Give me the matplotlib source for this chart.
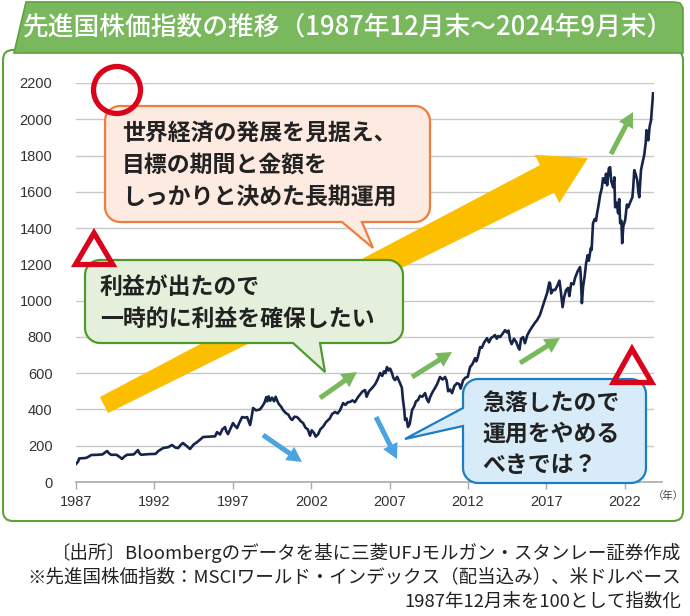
import numpy as np
import matplotlib
matplotlib.use("Agg")
import matplotlib.pyplot as plt
from matplotlib.patches import Polygon, Circle, FancyArrow, FancyBboxPatch

JP = ["Noto Sans CJK JP", "DejaVu Sans"]
NUM = ["Liberation Sans", "DejaVu Sans"]

# MSCI World (dividends reinvested, USD), Dec 1987 = 100
dates = [
    1987.92, 1988.05, 1988.12, 1988.5, 1988.62, 1988.9, 1989.3, 1989.6, 1989.9, 1990.0,
    1990.15, 1990.5, 1990.7, 1990.85, 1991.0, 1991.17, 1991.6, 1991.8, 1991.87, 1991.95,
    1992.07, 1992.3, 1992.64, 1993.0, 1993.15, 1993.47, 1993.8, 1994.04, 1994.25, 1994.43,
    1994.6, 1994.74, 1994.95, 1995.19, 1995.4, 1995.64, 1995.85, 1996.02, 1996.4, 1996.79,
    1996.91, 1997.1, 1997.25, 1997.42, 1997.5, 1997.61, 1997.8, 1997.93, 1998.05, 1998.19,
    1998.35, 1998.51, 1998.7, 1998.83, 1999.02, 1999.1, 1999.21, 1999.4, 1999.65, 1999.85,
    1999.95, 2000.05, 2000.12, 2000.2, 2000.3, 2000.42, 2000.55, 2000.65, 2000.74, 2000.85,
    2001.0, 2001.12, 2001.3, 2001.45, 2001.6, 2001.7, 2001.85, 2002.0, 2002.08, 2002.25,
    2002.4, 2002.55, 2002.7, 2002.84, 2002.95, 2003.1, 2003.2, 2003.35, 2003.5, 2003.67,
    2003.86, 2004.1, 2004.25, 2004.44, 2004.6, 2004.75, 2004.95, 2005.1, 2005.25, 2005.39,
    2005.55, 2005.7, 2005.9, 2006.1, 2006.2, 2006.35, 2006.45, 2006.6, 2006.8, 2007.0,
    2007.15, 2007.31, 2007.45, 2007.55, 2007.65, 2007.75, 2007.85, 2007.95, 2008.07, 2008.15,
    2008.26, 2008.4, 2008.58, 2008.7, 2008.77, 2008.85, 2008.9, 2009.0, 2009.09, 2009.2,
    2009.35, 2009.5, 2009.6, 2009.73, 2009.85, 2010.0, 2010.18, 2010.3, 2010.4, 2010.5,
    2010.65, 2010.81, 2010.95, 2011.13, 2011.3, 2011.45, 2011.55, 2011.65, 2011.77, 2011.9,
    2012.05, 2012.22, 2012.35, 2012.45, 2012.6, 2012.75, 2012.9, 2013.05, 2013.2, 2013.37,
    2013.45, 2013.55, 2013.69, 2013.8, 2013.95, 2014.13, 2014.25, 2014.4, 2014.5, 2014.64,
    2014.75, 2014.85, 2014.96, 2015.1, 2015.28, 2015.4, 2015.5, 2015.6, 2015.7, 2015.85,
    2016.0, 2016.11, 2016.2, 2016.3, 2016.43, 2016.55, 2016.7, 2016.87, 2017.05, 2017.2,
    2017.32, 2017.5, 2017.64, 2017.8, 2017.96, 2018.1, 2018.15, 2018.22, 2018.35, 2018.47,
    2018.6, 2018.75, 2018.85, 2018.95, 2019.05, 2019.17, 2019.3, 2019.38, 2019.5, 2019.65,
    2019.74, 2019.9, 2020.06, 2020.1, 2020.18, 2020.26, 2020.35, 2020.45, 2020.55, 2020.62,
    2020.75, 2020.8, 2020.89, 2021.0, 2021.08, 2021.15, 2021.25, 2021.34, 2021.45, 2021.53,
    2021.65, 2021.72, 2021.79, 2021.9, 2021.98, 2022.05, 2022.17, 2022.25, 2022.3, 2022.4,
    2022.49, 2022.56, 2022.62, 2022.7, 2022.75, 2022.82, 2022.94, 2023.05, 2023.14, 2023.25,
    2023.4, 2023.45, 2023.52, 2023.6, 2023.71, 2023.78, 2023.84, 2023.95, 2024.04, 2024.15,
    2024.25, 2024.3, 2024.35, 2024.42, 2024.5, 2024.59, 2024.72,
]
index_values = [
    100, 112, 130, 132, 135, 149, 150, 152, 171, 160,
    150, 150, 138, 127, 140, 150, 152, 170, 176, 160,
    150, 152, 154, 155, 170, 187, 192, 204, 190, 187,
    205, 215, 200, 182, 205, 220, 235, 248, 250, 252,
    275, 262, 290, 303, 280, 264, 300, 325, 310, 297,
    330, 358, 355, 358, 314, 350, 408, 395, 400, 424,
    440, 468, 445, 472, 448, 465, 445, 470, 450, 430,
    415, 397, 380, 372, 350, 342, 360, 358, 353, 335,
    325, 300, 290, 255, 285, 270, 250, 262, 290, 305,
    330, 350, 375, 386, 378, 395, 435, 425, 440, 441,
    450, 440, 468, 490, 500, 507, 470, 500, 518, 540,
    565, 601, 585, 610, 600, 634, 615, 625, 601, 575,
    562, 580, 545, 520, 452, 400, 342, 350, 303, 320,
    397, 420, 445, 452, 475, 470, 490, 455, 440, 468,
    495, 518, 540, 579, 565, 579, 560, 500, 510, 490,
    530, 545, 540, 515, 560, 575, 580, 634, 650, 683,
    665, 690, 744, 740, 770, 793, 770, 795, 800, 810,
    790, 805, 799, 815, 837, 825, 835, 782, 760, 790,
    770, 744, 730, 790, 799, 765, 810, 837, 860, 880,
    892, 920, 958, 1000, 1041, 1100, 1096, 1040, 1060, 1058,
    1080, 1110, 1040, 964, 1020, 1058, 1070, 1025, 1096, 1090,
    1124, 1160, 1185, 1150, 986, 1080, 1130, 1207, 1250, 1220,
    1290, 1280, 1427, 1450, 1440, 1482, 1530, 1581, 1620, 1675,
    1650, 1700, 1636, 1730, 1736, 1660, 1625, 1680, 1515, 1540,
    1482, 1560, 1427, 1440, 1317, 1410, 1444, 1530, 1515, 1540,
    1570, 1620, 1719, 1700, 1664, 1600, 1570, 1720, 1758, 1800,
    1870, 1940, 1900, 1884, 1960, 1995, 2143,
]

tick_years = [1987, 1992, 1997, 2002, 2007, 2012, 2017, 2022]
y_ticks = list(range(0, 2201, 200))

title = "先進国株価指数の推移（1987年12月末～2024年9月末）"
notes = [
    "〔出所〕Bloombergのデータを基に三菱UFJモルガン・スタンレー証券作成",
    "※先進国株価指数：MSCIワールド・インデックス（配当込み）、米ドルベース",
    "1987年12月末を100として指数化",
]
msg_long = ["世界経済の発展を見据え、", "目標の期間と金額を", "しっかりと決めた長期運用"]
msg_profit = ["利益が出たので", "一時的に利益を確保したい"]
msg_drop = ["急落したので", "運用をやめる", "べきでは？"]

W, H = 690, 616
fig = plt.figure(figsize=(W / 100, H / 100), dpi=100)

# background: frame + title band (pixel coordinates)
bg = fig.add_axes([0, 0, 1, 1], zorder=0)
bg.set_xlim(0, W)
bg.set_ylim(H, 0)
bg.axis("off")
bg.add_patch(FancyBboxPatch((3, 50), 680, 471, boxstyle="round,pad=0,rounding_size=10",
                            fc="white", ec="#5ea23c", lw=1.5))
band = [(14, 53), (26, 2), (674, 2), (680, 3), (683, 8), (683, 53)]
bg.add_patch(Polygon(band, closed=True, fc="#7ab85e", ec="#5ea23c", lw=1.2))
bg.text(348, 27, title, color="white", fontsize=18.5, family=JP, weight="medium",
        ha="center", va="center")
for i, line in enumerate(notes):
    bg.text(681, 553 + i * 24.5, line, fontsize=13.3, family=JP, color="#222222",
            ha="right", va="center")

# main chart
x0_year = 1987 + 11 / 12
px_per_year = 15.68
ax = fig.add_axes([76 / W, 1 - 482 / H, 578 / W, 399 / H], zorder=1)
ax.patch.set_alpha(0)
ax.plot(dates, index_values, color="#16244a", lw=1.9, solid_joinstyle="round", zorder=3)
ax.set_xlim(x0_year, x0_year + 578 / px_per_year)
ax.set_ylim(0, 2200)
ax.set_yticks(y_ticks)
ax.set_yticklabels([str(v) for v in y_ticks], fontsize=10.5, family=NUM, color="#333333")
ax.set_xticks([y + 11 / 12 for y in tick_years])
ax.set_xticklabels([str(y) for y in tick_years], fontsize=10.5, family=NUM, color="#333333")
ax.tick_params(axis="y", length=0, pad=17)
ax.tick_params(axis="x", length=5, color="#aaaaaa", width=1, pad=4)
ax.grid(axis="y", color="#c8c8c8", lw=1)
for s in ax.spines.values():
    s.set_visible(False)
ax.axhline(0, xmin=0, xmax=(662 - 76) / 578, color="#aaaaaa", lw=1.2, clip_on=False, zorder=2)
ax.text(1.025, -0.035, "（年）", transform=ax.transAxes, fontsize=7.5, family=JP,
        color="#444444", ha="center", va="center")

# overlay with annotations (pixel coordinates)
ov = fig.add_axes([0, 0, 1, 1], zorder=2)
ov.set_xlim(0, W)
ov.set_ylim(H, 0)
ov.axis("off")

# big tapered yellow arrow
tail = np.array([104.0, 405.0])
tip = np.array([588.0, 158.0])
u = (tip - tail) / np.hypot(*(tip - tail))
n = np.array([-u[1], u[0]])
base = tip - 46 * u
yellow = [tail + 9 * n, base + 15.5 * n, base + 27 * n, tip, base - 27 * n, base - 15.5 * n, tail - 9 * n]
ov.add_patch(Polygon(yellow, closed=True, fc="#fbbf00", ec="none"))


def small_arrow(p0, p1, color):
    ov.add_patch(FancyArrow(p0[0], p0[1], p1[0] - p0[0], p1[1] - p0[1], width=5,
                            head_width=16, head_length=15, length_includes_head=True,
                            fc=color, ec="none"))


green_arrow = "#7ab85e"
blue_arrow = "#4ba4df"
small_arrow((320, 398), (357, 372), green_arrow)
small_arrow((412, 377), (452, 352), green_arrow)
small_arrow((520, 363), (560, 338), green_arrow)
small_arrow((611, 154), (633, 112), green_arrow)
small_arrow((263, 435), (302, 462), blue_arrow)
small_arrow((376, 417), (397, 459), blue_arrow)


def bubble(x0, y0, x1, y1, r, side, t0, t1, tip_pt, fc, ec):
    pts = []

    def arc(cx, cy, a0, a1):
        for a in np.linspace(a0, a1, 10):
            pts.append((cx + r * np.cos(a), cy + r * np.sin(a)))

    arc(x0 + r, y0 + r, np.pi, 1.5 * np.pi)
    arc(x1 - r, y0 + r, 1.5 * np.pi, 2 * np.pi)
    arc(x1 - r, y1 - r, 0, 0.5 * np.pi)
    if side == "bottom":
        pts += [(t1, y1), tip_pt, (t0, y1)]
    arc(x0 + r, y1 - r, 0.5 * np.pi, np.pi)
    if side == "left":
        pts += [(x0, t1), tip_pt, (x0, t0)]
    ov.add_patch(Polygon(pts, closed=True, fc=fc, ec=ec, lw=1.6, joinstyle="miter"))


def lines(x, ys, texts):
    for y, t in zip(ys, texts):
        ov.text(x, y, t, fontsize=16.5, family=JP, weight="bold", color="#222222",
                ha="left", va="center")


bubble(105, 106, 430, 222, 15, "bottom", 342, 362, (373, 248), "#fdeae1", "#ef7d3d")
lines(122, [133, 165, 197], msg_long)
bubble(85, 260, 403, 343, 15, "bottom", 293, 320, (325, 372), "#e4f0dc", "#4f9a2c")
lines(100, [287, 319], msg_profit)
bubble(463, 379, 646, 483, 15, "left", 408, 426, (405, 439), "#d7ebf8", "#1b7dc3")
lines(482, [403, 434, 465], msg_drop)

# red marks
red = "#d9041b"
ov.add_patch(Circle((117, 90), 23.5, fill=False, ec=red, lw=3.8))
ov.add_patch(Polygon([(94, 233), (75.5, 264.5), (112.7, 264.5)], closed=True, fill=False,
                     ec=red, lw=3.8, joinstyle="miter"))
ov.add_patch(Polygon([(632, 349), (613.3, 382.5), (651.7, 382.5)], closed=True, fill=False,
                     ec=red, lw=3.8, joinstyle="miter"))

fig.savefig("out.png", dpi=100)
